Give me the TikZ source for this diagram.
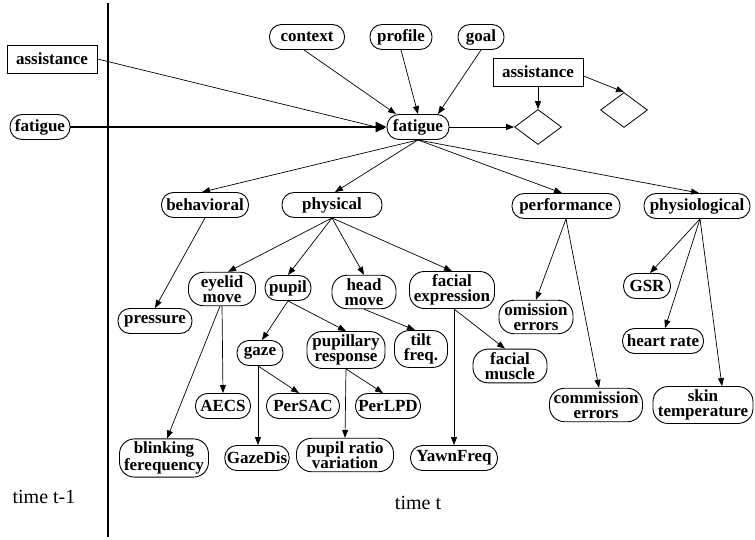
\documentclass[tikz,border=0pt]{standalone}
\usepackage{fontspec}
\setmainfont{Liberation Serif}
\usetikzlibrary{arrows.meta,shapes.geometric}
\begin{document}
\begin{tikzpicture}[x=1pt,y=-1pt,
 rnode/.style={draw,line width=0.9pt,rounded corners=12pt,font=\fontsize{17}{15.5}\selectfont\bfseries,inner xsep=2pt,inner ysep=3pt,align=center,minimum height=25pt},
 tnode/.style={rnode,rounded corners=15pt},
 bnode/.style={draw,line width=0.9pt,font=\fontsize{17}{15.5}\selectfont\bfseries,inner xsep=6pt,minimum height=28pt,minimum width=90pt},
 dia/.style={draw,diamond,minimum width=47pt,minimum height=35pt,inner sep=0pt,line width=0.8pt},
 arr/.style={-{Triangle[length=8pt,width=6pt]},line width=0.7pt},
 lbl/.style={font=\fontsize{20}{22}\selectfont}]
\useasboundingbox (0,0) rectangle (755,540);
% time divider
\draw[line width=1.8pt] (108,3) coordinate (vt) -- (108,537) coordinate (vb);
\node[lbl] (tt1) at (44,497) {time t-1};
\node[lbl] (tt) at (418,503) {time t};
% previous slice
\node[bnode] (asL) at (52,59) {assistance};
\node[rnode,minimum width=60pt] (faL) at (40,127) {fatigue};
% top
\node[rnode,minimum width=75pt] (ctx) at (307,37) {context};
\node[rnode,minimum width=62pt] (prof) at (401,37) {profile};
\node[rnode,minimum width=46pt] (goal) at (481,37) {goal};
\node[bnode] (asR) at (538,72) {assistance};
\node[rnode,minimum width=62pt] (fat) at (418,127) {fatigue};
\node[dia] (d1) at (538,127) {};
\node[dia] (d2) at (624,110) {};
% second row
\node[rnode,minimum width=87pt] (beh) at (205,205) {behavioral};
\node[rnode,minimum width=100pt] (phy) at (332,205) {physical};
\node[rnode,minimum width=108pt] (perf) at (566,206) {performance};
\node[rnode,minimum width=106pt] (phys) at (697,206) {physiological};
% third row
\node[tnode,minimum width=67pt] (eye) at (222,289) {eyelid\\move};
\node[rnode,minimum width=46pt] (pup) at (288,288) {pupil};
\node[tnode,minimum width=64pt] (head) at (364,292) {head\\move};
\node[tnode,minimum width=85pt] (fexp) at (452,290) {facial\\expression};
\node[rnode,minimum width=74pt] (pres) at (155,321) {pressure};
\node[rnode,minimum width=46pt] (gaze) at (260,353) {gaze};
\node[tnode,minimum width=78pt] (pres2) at (346,350) {pupillary\\response};
\node[tnode,minimum width=53pt] (tilt) at (421,349) {tilt\\freq.};
\node[tnode,minimum width=74pt] (omi) at (536,317) {omission\\errors};
\node[rnode,minimum width=47pt] (gsr) at (647,286) {GSR};
\node[rnode,minimum width=81pt] (hr) at (663,341) {heart rate};
\node[tnode,minimum width=74pt] (fmus) at (510,366) {facial\\muscle};
\node[tnode,minimum width=93pt] (com) at (596,405) {commission\\errors};
\node[tnode,minimum width=100pt] (skin) at (703,405) {skin\\temperature};
% bottom
\node[rnode,minimum width=55pt] (aecs) at (223,406) {AECS};
\node[rnode,minimum width=73pt] (persac) at (303,406) {PerSAC};
\node[rnode,minimum width=65pt] (perlpd) at (388,406) {PerLPD};
\node[tnode,minimum width=89pt] (blink) at (164,458) {blinking\\ferequency};
\node[rnode,minimum width=63pt] (gdis) at (257,458) {GazeDis};
\node[tnode,minimum width=97pt] (prv) at (345,455) {pupil ratio\\variation};
\node[rnode,minimum width=87pt] (yawn) at (454,458) {YawnFreq};
% connectors
\draw[arr] (asL.east) -- ([xshift=-2pt,yshift=-2pt]fat.west);
\draw[-{Triangle[length=11pt,width=10pt]},line width=2.4pt] (faL) -- (fat);
\draw[arr] ([xshift=-3pt]ctx.south) -- ([xshift=-22pt]fat.north);
\draw[arr] (prof.south) -- (fat.north);
\draw[arr] (goal.south) -- ([xshift=20pt]fat.north);
\draw[arr] (fat) -- (d1);
\draw[arr] (asR) -- (d1);
\draw[arr] ([yshift=-4pt]asR.east) -- (d2.north);
\draw[arr] (fat.south) -- ([xshift=-3pt]beh.north);
\draw[arr] (fat.south) -- ([xshift=3pt]phy.north);
\draw[arr] (fat.south) -- ([xshift=-4pt]perf.north);
\draw[arr] (fat.south) -- ([xshift=2pt]phys.north);
\draw[arr] (beh.south) -- (pres.north);
\draw[arr] (phy.south) -- ([xshift=6pt]eye.north);
\draw[arr] (phy.south) -- (pup.north);
\draw[arr] (phy.south) -- (head.north);
\draw[arr] (phy.south) -- (fexp.north);
\draw[arr] (eye.south) -- (aecs.north);
\draw[arr] ([xshift=-2pt]eye.south) -- ([xshift=3pt]blink.north);
\draw[arr] (pup.south) -- ([xshift=2pt]gaze.north);
\draw[arr] (pup.south) -- (pres2.north);
\draw[arr] (head.south) -- ([xshift=-6pt]tilt.north);
\draw[arr] ([xshift=-2pt]gaze.south) -- ([xshift=1pt]gdis.north);
\draw[arr] ([xshift=-2pt]gaze.south) -- ([xshift=-4pt]persac.north);
\draw[arr] (pres2.south) -- (prv.north);
\draw[arr] (pres2.south) -- ([xshift=-5pt]perlpd.north);
\draw[arr] ([xshift=2pt]fexp.south) -- (yawn.north);
\draw[arr] ([xshift=2pt]fexp.south) -- ([xshift=-5pt]fmus.north);
\draw[arr] (perf.south) -- (omi.north);
\draw[arr] (perf.south) -- ([xshift=3pt]com.north);
\draw[arr] ([xshift=3pt]phys.south) -- ([xshift=3pt]gsr.north);
\draw[arr] ([xshift=3pt]phys.south) -- ([xshift=2pt]hr.north);
\draw[arr] ([xshift=3pt]phys.south) -- ([xshift=19pt]skin.north);
\end{tikzpicture}
\end{document}
